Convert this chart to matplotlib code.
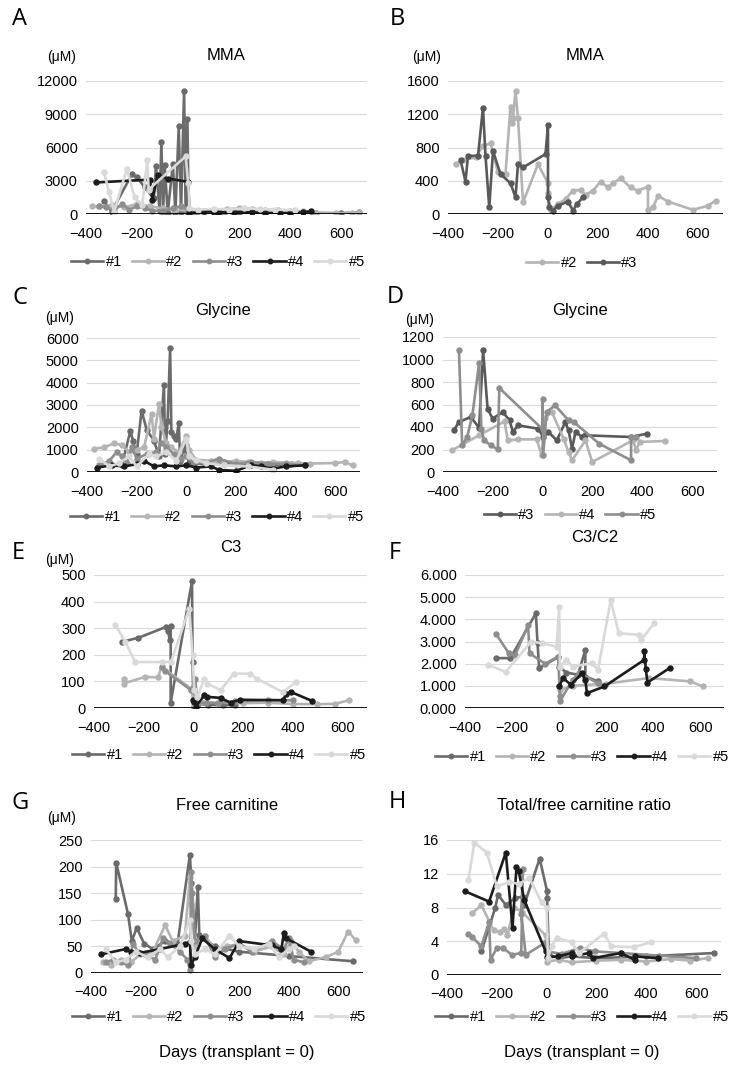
import matplotlib
matplotlib.use("Agg")
import matplotlib.pyplot as plt
from matplotlib.ticker import FuncFormatter

plt.rcParams['font.family'] = ['Liberation Sans', 'DejaVu Sans']

# ---- data: [day, value] pairs ----
# A: MMA (all patients)
A1 = [[-330, 1200], [-300, 200], [-220, 3600], [-200, 3300], [-170, 2400], [-135, 1400], [-126, 4300],
      [-112, 300], [-105, 6500], [-98, 200], [-92, 4400], [-80, 100], [-60, 4500], [-50, 100],
      [-37, 7900], [-28, 200], [-16, 11100], [-10, 300], [-3, 8600], [2, 100], [30, 100], [100, 150],
      [200, 120], [300, 100], [400, 80], [500, 100], [600, 80], [670, 150]]
A2 = [[-375, 700], [-350, 700], [-300, 800], [-250, 600], [-200, 900], [-150, 700], [-100, 500],
      [-50, 400], [0, 300], [10, 100], [50, 300], [100, 400], [150, 450], [200, 500], [250, 450],
      [300, 400], [350, 350], [400, 300], [450, 250], [500, 100], [580, 50], [640, 100], [670, 150]]
A3 = [[-350, 700], [-320, 600], [-290, 300], [-260, 900], [-230, 400], [-200, 700], [-170, 500],
      [-140, 300], [-100, 300], [-60, 500], [-30, 700], [0, 400], [10, 50], [30, 100], [60, 150],
      [100, 100], [140, 120], [170, 200]]
A4 = [[-360, 2850], [-150, 3100], [-140, 1300], [-120, 3500], [-80, 3200], [0, 2900], [5, 50],
      [60, 250], [100, 200], [120, 150], [180, 200], [250, 150], [300, 100], [360, 50], [400, 100],
      [450, 150], [480, 250]]
A5 = [[-330, 3800], [-310, 2000], [-290, 200], [-240, 4100], [-210, 1500], [-180, 800],
      [-160, 4900], [-155, 2200], [-10, 5200], [0, 2800], [5, 500], [40, 400], [100, 450],
      [160, 400], [220, 500], [280, 450], [340, 400], [420, 350]]

# B: MMA (#2, #3)
B2 = [[-370, 600], [-340, 650], [-290, 680], [-260, 820], [-230, 850], [-200, 500], [-170, 480],
      [-150, 1290], [-145, 1100], [-140, 1150], [-130, 1480], [-120, 1150], [-100, 140], [-40, 600],
      [0, 370], [0, 250], [10, 50], [40, 120], [70, 180], [100, 280], [130, 290], [150, 230],
      [180, 280], [210, 390], [240, 320], [260, 370], [290, 430], [330, 320], [360, 280], [400, 330],
      [400, 50], [420, 80], [440, 220], [480, 150], [580, 50], [640, 100], [670, 160]]
B3 = [[-350, 650], [-330, 390], [-320, 700], [-280, 700], [-260, 1280], [-250, 700], [-235, 80],
      [-220, 760], [-190, 480], [-150, 370], [-130, 200], [-120, 600], [-100, 560], [-10, 720],
      [0, 1070], [0, 200], [5, 80], [20, 40], [40, 100], [80, 150], [100, 40], [115, 120], [140, 200]]

# C: Glycine (all patients)
C1 = [[-260, 300], [-225, 1850], [-215, 1400], [-200, 800], [-180, 2750], [-160, 1900], [-130, 1400],
      [-110, 700], [-90, 3900], [-85, 800], [-75, 2300], [-65, 5550], [-60, 1800], [-50, 1600],
      [-40, 1500], [-30, 2200], [-25, 500], [-10, 1000], [0, 1200], [10, 400], [80, 350],
      [150, 400], [250, 350], [350, 300], [420, 350]]
C2 = [[-370, 1050], [-330, 1100], [-290, 1300], [-260, 1200], [-230, 900], [-200, 1000], [-170, 1100],
      [-140, 2600], [-130, 1500], [-110, 3050], [-100, 2000], [-80, 1300], [-60, 1100], [-30, 900],
      [0, 1600], [10, 1000], [40, 550], [100, 500], [150, 450], [200, 500], [250, 450], [300, 420],
      [350, 450], [400, 420], [450, 400], [500, 380], [600, 400], [640, 450], [670, 300]]
C3 = [[-350, 300], [-310, 500], [-280, 900], [-260, 700], [-240, 400], [-220, 1100], [-200, 600],
      [-160, 800], [-120, 900], [-100, 1300], [-80, 1100], [-50, 800], [-20, 600], [0, 700],
      [30, 400], [80, 400], [130, 600], [200, 350], [260, 450], [330, 380], [400, 350], [480, 300]]
C4 = [[-360, 200], [-300, 300], [-250, 250], [-200, 350], [-170, 500], [-130, 250], [-90, 300],
      [-40, 250], [0, 300], [40, 200], [100, 250], [130, 100], [200, 50], [260, 300], [300, 250],
      [350, 150], [400, 250], [480, 300]]
C5 = [[-350, 600], [-310, 250], [-270, 400], [-230, 700], [-200, 250], [-150, 800], [-120, 700],
      [-80, 900], [-40, 500], [0, 1500], [10, 700], [40, 550], [80, 400], [150, 300], [250, 250],
      [350, 100]]

# D: Glycine (#3, #4, #5)
D3 = [[-357, 370], [-336, 444], [-289, 489], [-255, 394], [-239, 1081], [-221, 563], [-201, 474],
      [-160, 533], [-133, 459], [-119, 356], [-99, 415], [-18, 385], [3, 311], [23, 356], [57, 281],
      [91, 444], [104, 370], [118, 207], [132, 356], [159, 311], [172, 326], [355, 311], [417, 340]]
D4 = [[-364, 193], [-255, 326], [-153, 450], [-140, 281], [-99, 290], [-24, 290], [-4, 148],
      [10, 480], [37, 533], [84, 296], [104, 178], [118, 104], [172, 281], [199, 89], [362, 281],
      [376, 193], [389, 267], [491, 276]]
D5 = [[-336, 1081], [-323, 237], [-303, 311], [-282, 504], [-255, 969], [-246, 385], [-235, 281],
      [-208, 237], [-180, 201], [-174, 747], [0, 380], [0, 652], [2, 148], [16, 533], [50, 593],
      [104, 459], [125, 444], [227, 252], [355, 104], [355, 311], [376, 311]]

# E: C3 (all patients)
E1 = [[-287, 249], [-221, 264], [-109, 305], [-102, 290], [-95, 257], [-91, 310], [-91, 20],
      [-5, 477], [-3, 173], [1, 4], [20, 15], [60, 12], [120, 10], [170, 12]]
E2 = [[-281, 110], [-281, 92], [-195, 117], [-142, 115], [-128, 155], [-9, 73], [4, 16], [30, 23],
      [100, 20], [200, 18], [300, 20], [400, 15], [500, 14], [573, 16], [626, 29]]
E3 = [[-128, 155], [-115, 140], [-9, 67], [8, 110], [17, 16], [50, 20], [100, 18], [170, 25],
      [300, 30], [401, 29]]
E4 = [[-3, 29], [4, 23], [10, 5], [44, 48], [57, 42], [110, 38], [150, 20], [189, 31], [361, 29],
      [375, 54], [394, 60], [480, 26]]
E5 = [[-314, 312], [-274, 249], [-234, 173], [-128, 173], [-90, 173], [-16, 374], [-3, 198],
      [4, 67], [17, 41], [44, 110], [57, 92], [110, 67], [163, 129], [229, 129], [256, 110],
      [361, 60], [414, 98]]

# F: C3/C2 (all patients)
F1 = [[-268, 2.25], [-207, 2.25], [-99, 4.27], [-92, 2.92], [-85, 1.8], [-4, 2.3], [0, 1.87],
      [30, 1.6], [80, 1.5], [111, 2.62], [111, 1.42], [165, 1.2]]
F2 = [[3, 0.82], [60, 1.0], [200, 1.1], [381, 1.35], [557, 1.2], [611, 0.97]]
F3 = [[-268, 3.34], [-214, 2.47], [-186, 2.4], [-132, 3.75], [-126, 2.47], [-60, 2.0], [-4, 2.32],
      [3, 0.52], [3, 0.3], [57, 1.27], [84, 1.57], [165, 1.12]]
F4 = [[0, 0.97], [16, 1.35], [50, 1.05], [97, 1.57], [111, 1.27], [118, 0.67], [192, 0.97],
      [361, 2.17], [361, 2.55], [368, 1.75], [375, 1.15], [469, 1.8]]
F5 = [[-301, 1.95], [-227, 1.62], [-119, 3.0], [-72, 2.92], [-11, 2.77], [0, 4.57], [3, 1.87],
      [30, 2.17], [57, 1.87], [138, 2.02], [165, 1.72], [219, 4.87], [253, 3.37], [341, 3.3],
      [348, 3.07], [403, 3.82]]

# G: Free carnitine (all patients)
G1 = [[-300, 140], [-298, 207], [-250, 110], [-235, 60], [-215, 85], [-185, 55], [-150, 45],
      [-100, 60], [-50, 55], [0, 222], [6, 169], [20, 60], [32, 162], [38, 72], [100, 50],
      [200, 40], [400, 32], [660, 22]]
G2 = [[-350, 20], [-320, 15], [-280, 25], [-240, 20], [-200, 35], [-150, 40], [-100, 90], [-70, 60],
      [-20, 70], [0, 180], [5, 130], [20, 50], [60, 70], [100, 45], [150, 50], [200, 55], [260, 40],
      [330, 50], [380, 35], [410, 60], [440, 40], [480, 22], [550, 30], [600, 40], [640, 78], [670, 62]]
G3 = [[-340, 20], [-310, 25], [-280, 20], [-250, 15], [-230, 55], [-210, 40], [-180, 35], [-140, 25],
      [-110, 65], [-80, 55], [-40, 40], [-10, 25], [0, 5], [5, 190], [10, 150], [20, 60], [60, 70],
      [100, 30], [140, 45], [200, 55], [250, 40], [330, 60], [380, 45], [400, 65], [420, 25],
      [460, 20]]
G4 = [[-360, 35], [-260, 45], [-240, 40], [-200, 38], [-120, 45], [-20, 55], [0, 58], [5, 15],
      [20, 30], [50, 65], [100, 45], [160, 28], [200, 60], [330, 52], [370, 45], [380, 75],
      [390, 65], [490, 40]]
G5 = [[-340, 45], [-300, 20], [-260, 25], [-220, 40], [-170, 30], [-120, 45], [-90, 30], [-40, 50],
      [0, 100], [5, 60], [20, 35], [60, 45], [100, 35], [160, 70], [200, 50], [260, 45], [320, 55],
      [360, 30], [400, 45], [420, 50]]

# H: Total/free carnitine ratio (all patients)
H1 = [[-262, 2.8], [-207, 7.9], [-195, 9.5], [-164, 8.3], [-127, 9.1], [-96, 9.3], [-90, 8.3],
      [-28, 13.8], [2, 9.9], [2, 9.1], [9, 2.4], [50, 2.0], [100, 2.2], [200, 2.0], [400, 2.2],
      [670, 2.6]]
H2 = [[-299, 7.3], [-262, 8.3], [-213, 5.3], [-188, 5.1], [-170, 5.5], [-158, 4.7], [-130, 8.0],
      [-100, 7.5], [-4, 4.7], [2, 1.6], [50, 1.8], [100, 1.5], [200, 1.7], [300, 1.8], [400, 1.6],
      [500, 1.9], [575, 1.7], [649, 2.0]]
H3 = [[-314, 4.9], [-299, 4.5], [-262, 3.4], [-231, 6.3], [-225, 1.8], [-200, 3.2], [-176, 3.2],
      [-139, 2.4], [-102, 2.6], [-95, 12.6], [-102, 7.2], [-84, 2.4], [-10, 3.75], [2, 2.8],
      [60, 2.5], [132, 3.2], [193, 2.8], [300, 2.6], [450, 2.3], [600, 2.0]]
H4 = [[-326, 9.9], [-231, 8.7], [-164, 14.5], [-137, 5.6], [-121, 12.8], [-112, 12.3], [-90, 8.9],
      [-4, 2.8], [2, 2.1], [46, 2.2], [101, 2.6], [101, 2.2], [169, 2.6], [187, 2.0], [298, 2.6],
      [353, 1.8], [353, 2.2], [446, 2.0]]
H5 = [[-314, 11.3], [-290, 15.7], [-240, 14.5], [-200, 10.5], [-150, 11.0], [-110, 10.8],
      [-70, 11.5], [-20, 8.6], [0, 8.0], [5, 2.0], [20, 3.4], [40, 4.4], [100, 3.9], [130, 2.6],
      [230, 4.9], [260, 3.4], [350, 3.3], [420, 3.9]]

# colours (Excel greys)
c1, c2, c3, c4, c5 = '#6b6b6b', '#b4b4b4', '#8e8e8e', '#1c1c1c', '#d9d9d9'
dark = '#595959'

W, H = 735, 1075
fig = plt.figure(figsize=(W / 100, H / 100), dpi=100)


def rect(l, r, t, b):
    return [l / W, 1 - b / H, (r - l) / W, (b - t) / H]


def panel(box, series, ymax, ystep, title, title_y, letter, letter_xy, unit_xy, leg_xy, fmt=None):
    ax = fig.add_axes(rect(*box))
    for lab, col, pts in series:
        xs = [p[0] for p in pts]
        ys = [p[1] for p in pts]
        ax.plot(xs, ys, color=col, lw=1.9, marker='o', ms=3.6, label=lab)
    ax.set_xlim(-400, 700)
    ax.set_ylim(0, ymax)
    ticks = [ystep * i for i in range(int(round(ymax / ystep)) + 1)]
    ax.set_yticks(ticks)
    ax.set_xticks([-400, -200, 0, 200, 400, 600])
    for t in ticks[1:]:
        ax.axhline(t, color='#d9d9d9', lw=0.8, zorder=0)
    ax.axhline(0, color='black', lw=1.3, zorder=5)
    for s in ax.spines.values():
        s.set_visible(False)
    ax.tick_params(length=0, labelsize=10.5, pad=6)
    ax.tick_params(axis='x', pad=9)
    if fmt:
        ax.yaxis.set_major_formatter(FuncFormatter(fmt))
    cx = (box[0] + box[1]) / 2
    fig.text(cx / W, 1 - title_y / H, title, ha='center', va='center', fontsize=12)
    fig.text(letter_xy[0] / W, 1 - letter_xy[1] / H, letter, ha='center', va='center',
             fontsize=17, family=['Open Sans', 'DejaVu Sans'])
    if unit_xy:
        fig.text(unit_xy[0] / W, 1 - unit_xy[1] / H, '(μM)', ha='center', va='center', fontsize=10)
    ax.legend(loc='center', bbox_to_anchor=(leg_xy[0] / W, 1 - leg_xy[1] / H),
              bbox_transform=fig.transFigure, ncol=len(series), frameon=False, fontsize=10.5,
              handlelength=2.2, columnspacing=0.7, handletextpad=0.15, markerscale=0.9)
    return ax


all5 = lambda a, b, c, d, e: [('#1', c1, a), ('#2', c2, b), ('#3', c3, c), ('#4', c4, d), ('#5', c5, e)]

panel((86, 367, 81, 214), all5(A1, A2, A3, A4, A5), 12000, 3000, 'MMA', 55,
      'A', (19, 19), (62, 57), (218, 262))
panel((448, 723, 81, 214), [('#2', c2, B2), ('#3', dark, B3)], 1600, 400, 'MMA', 55,
      'B', (397, 19), (427, 57), (582, 263))
panel((87, 360, 338, 472), all5(C1, C2, C3, C4, C5), 6000, 1000, 'Glycine', 310,
      'C', (20, 298), (60, 318), (217, 517))
panel((443, 717, 337, 472), [('#3', dark, D3), ('#4', c2, D4), ('#5', c3, D5)], 1200, 200,
      'Glycine', 310, 'D', (395, 297), (420, 320), (570, 515))
panel((94, 367, 575, 708), all5(E1, E2, E3, E4, E5), 500, 100, 'C3', 548,
      'E', (18, 553), (60, 560), (219, 755))
panel((465, 724, 575, 708), all5(F1, F2, F3, F4, F5), 6, 1, 'C3/C2', 538,
      'F', (395, 553), None, (582, 757), fmt=lambda v, p: f'{v:.3f}')
panel((91, 363, 840, 973), all5(G1, G2, G3, G4, G5), 250, 50, 'Free carnitine', 805,
      'G', (20, 803), (62, 818), (219, 1017))
panel((447, 721, 840, 975), all5(H1, H2, H3, H4, H5), 16, 4, 'Total/free carnitine ratio', 805,
      'H', (397, 802), None, (582, 1017))

fig.text(237 / W, 1 - 1052 / H, 'Days (transplant = 0)', ha='center', va='center', fontsize=12)
fig.text(582 / W, 1 - 1052 / H, 'Days (transplant = 0)', ha='center', va='center', fontsize=12)

fig.savefig('out.png', dpi=100)
